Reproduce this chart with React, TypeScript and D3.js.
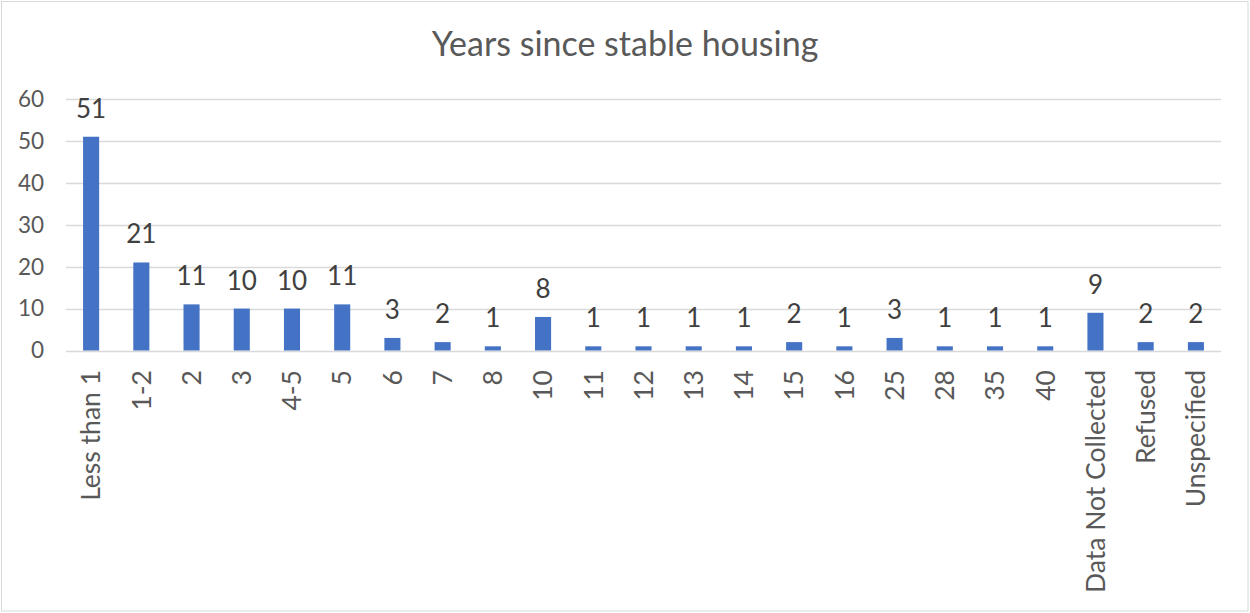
import React, { useEffect, useRef } from 'react';
import * as d3 from 'd3';

const categories = ['Less than 1', '1-2', '2', '3', '4-5', '5', '6', '7', '8', '10', '11', '12', '13', '14', '15', '16', '25', '28', '35', '40', 'Data Not Collected', 'Refused', 'Unspecified'];
const counts = [51, 21, 11, 10, 10, 11, 3, 2, 1, 8, 1, 1, 1, 1, 2, 1, 3, 1, 1, 1, 9, 2, 2];
const yTicks = [0, 10, 20, 30, 40, 50, 60];
const title = 'Years since stable housing';

const W = 1250;
const H = 613;
const FONT = 'Lato, "Open Sans", sans-serif';

export default function App() {
  const ref = useRef<SVGSVGElement>(null);

  useEffect(() => {
    const svg = d3.select(ref.current);
    svg.selectAll('*').remove();

    const left = 66, right = 1221, top = 99, bottom = 350.5;

    const x = d3.scaleBand().domain(categories).range([left, right]).paddingInner(0.68).paddingOuter(0.34);
    const y = d3.scaleLinear().domain([0, 60]).range([bottom, top]);

    // chart border
    svg.append('rect')
      .attr('x', 1.5).attr('y', 1.5)
      .attr('width', W - 3.5).attr('height', H - 3.5)
      .attr('fill', '#fff').attr('stroke', '#d9d9d9');

    svg.append('text')
      .attr('x', 625).attr('y', 56)
      .attr('text-anchor', 'middle')
      .style('font-family', FONT).style('font-size', '34px')
      .attr('fill', '#595959')
      .text(title);

    // gridlines
    svg.append('g').selectAll('line').data(yTicks).join('line')
      .attr('x1', left).attr('x2', right)
      .attr('y1', d => Math.round(y(d)) + 0.5).attr('y2', d => Math.round(y(d)) + 0.5)
      .attr('stroke', '#d9d9d9').attr('stroke-width', 1.5);

    svg.append('g').selectAll('text').data(yTicks).join('text')
      .attr('x', 44).attr('y', d => y(d))
      .attr('dy', '0.35em')
      .attr('text-anchor', 'end')
      .style('font-family', FONT).style('font-size', '22.5px')
      .attr('fill', '#595959')
      .text(d => d);

    const data = categories.map((c, i) => ({ c, v: counts[i] }));

    svg.append('g').selectAll('rect').data(data).join('rect')
      .attr('x', d => x(d.c)!)
      .attr('width', x.bandwidth())
      .attr('y', d => y(d.v))
      .attr('height', d => y(0) - y(d.v))
      .attr('fill', '#4472c4');

    svg.append('g').selectAll('text').data(data).join('text')
      .attr('x', d => x(d.c)! + x.bandwidth() / 2)
      .attr('y', d => y(d.v) - 19)
      .attr('text-anchor', 'middle')
      .style('font-family', FONT).style('font-size', '26px')
      .attr('fill', '#404040')
      .text(d => d.v);

    svg.append('g').selectAll('text').data(categories).join('text')
      .attr('transform', d => `translate(${x(d)! + x.bandwidth() / 2},370) rotate(-90)`)
      .attr('dy', '0.35em')
      .attr('text-anchor', 'end')
      .style('font-family', FONT).style('font-size', '26.5px')
      .attr('fill', '#595959')
      .text(d => d);
  }, []);

  return (
    <svg ref={ref} width={W} height={H} style={{ position: 'fixed', left: 0, top: 0, background: '#fff' }} />
  );
}
